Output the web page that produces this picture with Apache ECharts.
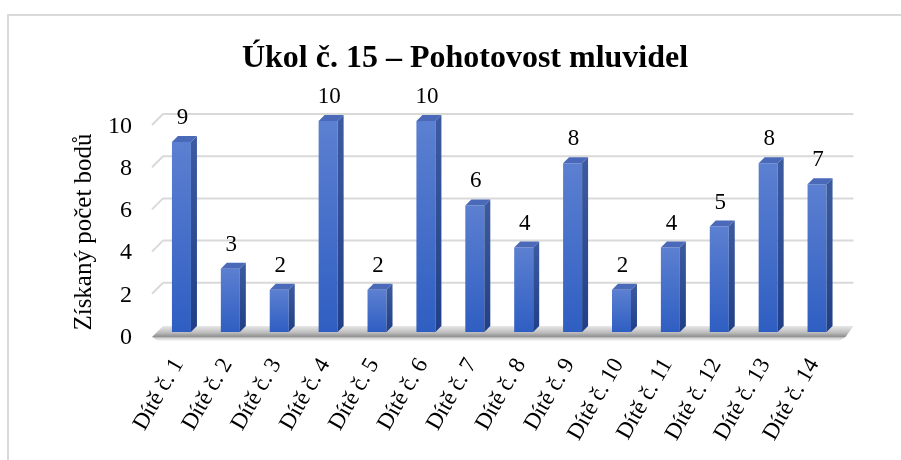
<!DOCTYPE html>
<html>
<head>
<meta charset="utf-8">
<script src="https://cdn.jsdelivr.net/npm/echarts@6/dist/echarts.min.js"></script>
<style>html,body{margin:0;padding:0;background:#fff}#c{width:901px;height:460px}</style>
</head>
<body>
<div id="c"></div>
<script>
const categories = ['Dítě č. 1','Dítě č. 2','Dítě č. 3','Dítě č. 4','Dítě č. 5','Dítě č. 6','Dítě č. 7','Dítě č. 8','Dítě č. 9','Dítě č. 10','Dítě č. 11','Dítě č. 12','Dítě č. 13','Dítě č. 14'];
const values = [9,3,2,10,2,10,6,4,8,2,4,5,8,7];
const yTicks = [0,2,4,6,8,10];
const titleText = 'Úkol č. 15 – Pohotovost mluvidel';
const yTitle = 'Získaný počet bodů';

const FONT = '"Liberation Serif","Times New Roman",serif';
const chart = echarts.init(document.getElementById('c'), null, {renderer:'canvas'});

function wallItem(params, api){
  const v = api.value(1);
  const y = api.coord([0, v])[1];
  const cs = params.coordSys;
  const L = cs.x, R = cs.x + cs.width;
  if (v === 0) {
    return {type:'group', children:[
      {type:'polygon', shape:{points:[[L+3,y-6],[R+9,y-6],[R+1,y+5],[L-8,y+5]]},
       style:{fill:new echarts.graphic.LinearGradient(0,0,0,1,[{offset:0,color:'#e8e8e8'},{offset:0.6,color:'#bdbdbd'},{offset:1,color:'#8c8c8c'}])}},
      {type:'polygon', shape:{points:[[L-8,y+5],[R+1,y+5],[R-5,y+9],[L-2,y+9]]},
       style:{fill:new echarts.graphic.LinearGradient(0,0,0,1,[{offset:0,color:'#b0b0b0'},{offset:1,color:'rgba(230,230,230,0.3)'}])}}
    ]};
  }
  return {type:'group', children:[
    {type:'line', shape:{x1:L+3,y1:y-7,x2:R+9,y2:y-7}, style:{stroke:'#d9d9d9', lineWidth:2}},
    {type:'line', shape:{x1:L-8,y1:y+4,x2:L+3,y2:y-7}, style:{stroke:'#d9d9d9', lineWidth:2}}
  ]};
}

function barItem(params, api){
  const i = api.value(0), v = api.value(1);
  const top = api.coord([i, v]);
  const base = api.coord([i, 0]);
  const cx = top[0], yT = top[1], y0 = base[1];
  const fl = cx - 12.5, fr = cx + 6.5, d = 6;
  return {type:'group', children:[
    {type:'rect', shape:{x:fl, y:yT, width:fr-fl, height:y0-yT},
     style:{fill:new echarts.graphic.LinearGradient(0,0,0,1,[{offset:0,color:'#5c80d1'},{offset:1,color:'#2f5ec2'}])}},
    {type:'polygon', shape:{points:[[fr,yT],[fr+d,yT-d],[fr+d,y0-d],[fr,y0]]},
     style:{fill:new echarts.graphic.LinearGradient(0,0,0,1,[{offset:0,color:'#3d5ba0'},{offset:1,color:'#213f86'}])}},
    {type:'polygon', shape:{points:[[fl,yT],[fl+d,yT-d],[fr+d,yT-d],[fr,yT]]},
     style:{fill:'#4a69b8'}},
    {type:'text', x:cx-2, y:yT-24, style:{text:String(v), fill:'#000', font:'23px '+FONT, textAlign:'center', textVerticalAlign:'middle'}}
  ]};
}

chart.setOption({
  animation:false,
  backgroundColor:'#fff',
  graphic:[{type:'rect', shape:{x:8,y:15,width:1000,height:1000}, style:{fill:'none', stroke:'#d9d9d9', lineWidth:2}, silent:true}],
  title:{text:titleText, left:460, textAlign:'center', top:38,
    textStyle:{fontFamily:FONT, fontWeight:'bold', fontSize:32, color:'#000'}},
  grid:[
    {left:160, right:56.5, top:121, bottom:128},
    {left:154, right:62.5, top:126.5, bottom:122.5}
  ],
  xAxis:[
    {type:'category', data:categories, gridIndex:0,
      axisLine:{show:false}, axisTick:{show:false}, splitLine:{show:false}, axisLabel:{show:false}},
    {type:'category', data:categories, gridIndex:1,
      axisLine:{show:false}, axisTick:{show:false}, splitLine:{show:false},
      axisLabel:{rotate:60, margin:23, interval:0, fontFamily:FONT, fontSize:23, color:'#000'}}
  ],
  yAxis:[
    {type:'value', min:0, max:10, interval:2, gridIndex:0,
      axisLine:{show:false}, axisTick:{show:false}, splitLine:{show:false}, axisLabel:{show:false}},
    {type:'value', min:0, max:10, interval:2, gridIndex:1,
      name:yTitle, nameLocation:'middle', nameGap:56,
      nameTextStyle:{fontFamily:FONT, fontSize:25, color:'#000'},
      axisLine:{show:false}, axisTick:{show:false}, splitLine:{show:false},
      axisLabel:{margin:22, fontFamily:FONT, fontSize:24, color:'#000'}}
  ],
  series:[
    {type:'custom', z:1, renderItem:wallItem, data:yTicks.map(v=>[0,v]), encode:{x:0,y:1}, silent:true},
    {type:'custom', z:2, renderItem:barItem, data:values.map((v,i)=>[i,v]), encode:{x:0,y:1}}
  ]
});
</script>
</body>
</html>
